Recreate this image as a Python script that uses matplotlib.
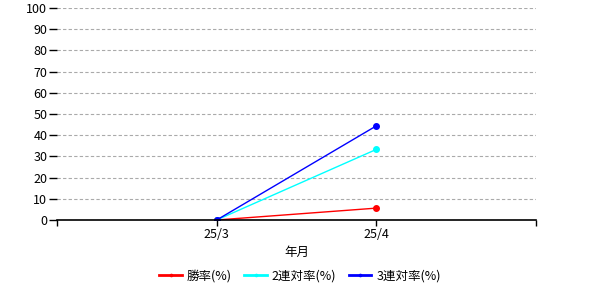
import matplotlib
matplotlib.use("Agg")
import matplotlib.pyplot as plt

plt.rcParams['font.family'] = ['Noto Sans CJK JP', 'DejaVu Sans']

categories = ["25/3", "25/4"]
win_rate = [0.0, 5.6]
top2_rate = [0.0, 33.3]
top3_rate = [0.0, 44.4]
series_names = ["勝率(%)", "2連対率(%)", "3連対率(%)"]
colors = ["#ff0000", "#00ffff", "#0000ff"]
yticks = list(range(0, 101, 10))

fig = plt.figure(figsize=(6, 3), dpi=100)
ax = fig.add_axes([57/600, 1-220/300, (536-57)/600, (220-8)/300])

x = [1, 2]
for vals, name, c in zip([win_rate, top2_rate, top3_rate], series_names, colors):
    ax.plot(x, vals, color=c, lw=1, marker='o', markersize=4, label=name)

ax.set_xlim(0, 3)
ax.set_ylim(0, 100)
ax.set_xticks([0, 1, 2, 3])
ax.set_xticklabels(["", categories[0], categories[1], ""], fontsize=9)
ax.set_yticks(yticks)
ax.set_yticklabels([str(v) for v in yticks], fontsize=9)
ax.tick_params(axis='y', length=6, width=1, color='black', pad=1)
ax.tick_params(axis='x', length=4, width=1, color='black', pad=2)
for s in ['left', 'right', 'top']:
    ax.spines[s].set_visible(False)
ax.spines['bottom'].set_linewidth(1.2)
ax.yaxis.grid(True, color='#aaaaaa', linestyle=(0, (3, 2)), linewidth=0.8)
ax.set_axisbelow(True)
ax.set_xlabel("年月", fontsize=9, labelpad=3)

leg = fig.legend(loc='center', bbox_to_anchor=(0.5, 1-276/300), ncol=3, frameon=False,
                 fontsize=9, handlelength=1.8, columnspacing=1.0, handletextpad=0.4,
                 markerscale=0.4)
for h in leg.get_lines():
    h.set_linewidth(2)

fig.savefig("out.png", dpi=100)
